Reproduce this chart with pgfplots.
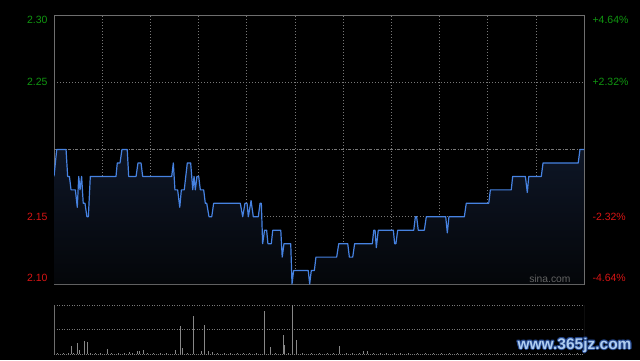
\documentclass[border=0pt]{standalone}
\usepackage{pgfplots}
\pgfplotsset{compat=1.18}
\usepackage{pgfplotstable}
\usepackage{fontspec}
\setmainfont{Liberation Sans}
\definecolor{bg}{RGB}{0,0,0}
\definecolor{frame}{RGB}{110,110,110}
\definecolor{gridc}{RGB}{120,120,120}
\definecolor{sgreen}{RGB}{16,150,16}
\definecolor{sred}{RGB}{215,20,20}
\definecolor{lineblue}{RGB}{70,130,225}
\definecolor{filltop}{RGB}{14,22,38}
\definecolor{fillbot}{RGB}{4,6,9}
\definecolor{volc}{RGB}{135,135,135}
\definecolor{wmfill}{RGB}{175,205,240}
\definecolor{wmedge}{RGB}{35,70,140}

\pgfplotstableread{
m p
0 2.18
1.7 2.20
7.5 2.20
8.5 2.18
9.6 2.18
10.6 2.17
13.3 2.17
14.5 2.157
15.4 2.18
16.2 2.17
17.2 2.18
18.2 2.16
19.3 2.16
20.5 2.15
21.4 2.15
22.6 2.18
38.6 2.18
39.4 2.19
41.1 2.19
42.3 2.20
45.6 2.20
46.5 2.18
51.1 2.18
52.3 2.19
54.2 2.19
55.2 2.18
73.3 2.18
74.3 2.19
75.3 2.17
77.0 2.17
78.3 2.157
79.3 2.17
81.1 2.17
83.0 2.19
85.1 2.19
86.4 2.17
87.2 2.18
88.0 2.17
89.0 2.18
90.1 2.18
91.1 2.17
93.2 2.17
94.2 2.16
95.1 2.16
96.5 2.15
98.2 2.15
99.4 2.16
116.0 2.16
117.5 2.15
118.9 2.16
120.2 2.16
121.0 2.15
122.7 2.162
124.1 2.15
127.2 2.15
128.3 2.16
129.1 2.16
129.9 2.13
131.1 2.14
132.4 2.14
133.2 2.13
135.3 2.13
136.2 2.14
141.2 2.14
142.1 2.12
143.2 2.13
147.4 2.13
148.2 2.10
149.2 2.11
158.3 2.11
159.2 2.10
160.2 2.11
162.1 2.11
163.1 2.12
176.0 2.12
177.3 2.13
182.9 2.13
183.9 2.12
186.0 2.12
187.2 2.13
198.2 2.13
199.1 2.14
199.9 2.14
200.7 2.127
201.9 2.14
211.3 2.14
212.1 2.13
212.9 2.13
214.0 2.14
224.0 2.14
225.0 2.15
225.8 2.15
226.8 2.14
230.6 2.14
231.8 2.15
243.9 2.15
244.9 2.138
245.9 2.15
255.5 2.15
256.7 2.16
270.7 2.16
271.7 2.17
284.7 2.17
285.6 2.18
293.5 2.18
294.7 2.168
295.6 2.18
303.4 2.18
304.5 2.19
326.4 2.19
327.5 2.20
330 2.20
}\pricedata

\pgfplotstableread{
m v
10.8 8.3
14.9 10.7
15.8 4.3
18.9 12.7
20.7 11.7
33.2 5.3
46.9 2.3
51.9 2.7
53.1 2.7
55.6 3.7
75.5 4.3
78.5 28.3
79.9 6.3
86.7 38.3
91.7 3.3
93.6 29.3
96.1 3.3
98.6 2.3
130.9 43.3
134.5 6.7
142.8 19.3
143.4 9.3
148.6 49
150.9 13.7
177.6 7.7
192.6 3.3
195.1 2.7
2 1
6 1.2
9 1
12 1
23 1
26 1.2
29 1
36 1
40 1
44 1.3
49 1
58 1
62 1.2
66 1
70 1
83 1
102 1
106 1.2
110 1
114 1
118 1
122 1.2
126 1
138 1
146 1.3
155 1
160 1
165 1
170 1
174 1.2
182 1
186 1
190 1
199 1
203 1.4
207 1
212 1
216 1
221 1
226 1
231 1
236 1
241 1
246 1
251 1
256 1.2
261 1
266 1
271 1
276 1
281 1
286 1
291 1
296 1
301 1
306 1
311 1
316 1
321 1
326 1
}\voldata

\begin{document}
\begin{tikzpicture}
\fill[bg] (0pt,0pt) rectangle (640pt,360pt);
\begin{axis}[
  at={(54pt,76pt)}, anchor=south west,
  scale only axis, width=530pt, height=269pt,
  xmin=0, xmax=330, ymin=2.10, ymax=2.30,
  xtick={30,60,...,300}, ytick={2.15,2.25},
  xticklabels={}, yticklabels={},
  major tick length=0pt,
  grid=major,
  major grid style={draw=gridc, line width=0.6pt, dash pattern=on 1pt off 2pt},
  axis line style={draw=frame, line width=0.8pt},
  clip=false,
]
\begin{scope}
\clip (rel axis cs:0,0) rectangle (rel axis cs:1,1);
\addplot[draw=none, top color=filltop, bottom color=fillbot] table[x=m,y=p] {\pricedata} -- (axis cs:330,2.10) -- (axis cs:0,2.10) -- cycle;
\draw[gridc, line width=0.6pt, dash pattern=on 3pt off 1.5pt on 1pt off 1.5pt] (axis cs:0,2.20) -- (axis cs:330,2.20);
\addplot[lineblue, line width=1.2pt, line join=round] table[x=m,y=p] {\pricedata};
\end{scope}
\node[anchor=east, text=sgreen, font=\fontsize{10.5}{12}\selectfont] at ([xshift=-3pt,yshift=-5pt]axis cs:0,2.30) {2.30};
\node[anchor=east, text=sgreen, font=\fontsize{10.5}{12}\selectfont] at ([xshift=-3pt]axis cs:0,2.25) {2.25};
\node[anchor=east, text=sred, font=\fontsize{10.5}{12}\selectfont] at ([xshift=-3pt]axis cs:0,2.15) {2.15};
\node[anchor=east, text=sred, font=\fontsize{10.5}{12}\selectfont] at ([xshift=-3pt,yshift=6pt]axis cs:0,2.10) {2.10};
\node[anchor=west, text=sgreen, font=\fontsize{10.5}{12}\selectfont] at ([xshift=5pt,yshift=-5pt]axis cs:330,2.30) {+4.64\%};
\node[anchor=west, text=sgreen, font=\fontsize{10.5}{12}\selectfont] at ([xshift=5pt]axis cs:330,2.25) {+2.32\%};
\node[anchor=west, text=sred, font=\fontsize{10.5}{12}\selectfont] at ([xshift=5pt]axis cs:330,2.15) {-2.32\%};
\node[anchor=west, text=sred, font=\fontsize{10.5}{12}\selectfont] at ([xshift=5pt,yshift=6pt]axis cs:330,2.10) {-4.64\%};
\node[anchor=east, text=volc!130, font=\fontsize{10.3}{12}\selectfont] at ([xshift=-10pt,yshift=5pt]axis cs:330,2.10) {sina.com};
\end{axis}
\begin{axis}[
  at={(54pt,6pt)}, anchor=south west,
  scale only axis, width=530pt, height=49pt,
  xmin=0, xmax=330, ymin=0, ymax=49,
  hide axis,
]
\draw[gridc, line width=0.9pt, dash pattern=on 1pt off 1.5pt] (rel axis cs:0,1) -- (rel axis cs:1,1);
\draw[gridc, line width=0.9pt, dash pattern=on 1pt off 1.5pt] (rel axis cs:0,0.5) -- (rel axis cs:1,0.5);
\draw[gridc, line width=0.8pt, dash pattern=on 1pt off 1pt] (rel axis cs:0,0) -- (rel axis cs:1,0);
\draw[frame, line width=0.8pt] (rel axis cs:0,0) -- (rel axis cs:0,1);
\draw[frame, line width=0.8pt] (rel axis cs:1,0) -- (rel axis cs:1,1);
\addplot[ycomb, volc, line width=0.9pt, mark=none] table[x=m,y=v] {\voldata};
\end{axis}
\foreach \dx/\dy in {-1/0,1/0,0/-1,0/1,-0.8/-0.8,0.8/0.8,-0.8/0.8,0.8/-0.8} {
  \node[text=wmedge, font=\bfseries\fontsize{15.5}{17}\selectfont, anchor=center] at ([xshift=\dx pt,yshift=\dy pt]574.5pt,15pt) {www.365jz.com};
}
\node[text=wmfill, font=\bfseries\fontsize{15.5}{17}\selectfont, anchor=center] at (574.5pt,15pt) {www.365jz.com};
\end{tikzpicture}
\end{document}
